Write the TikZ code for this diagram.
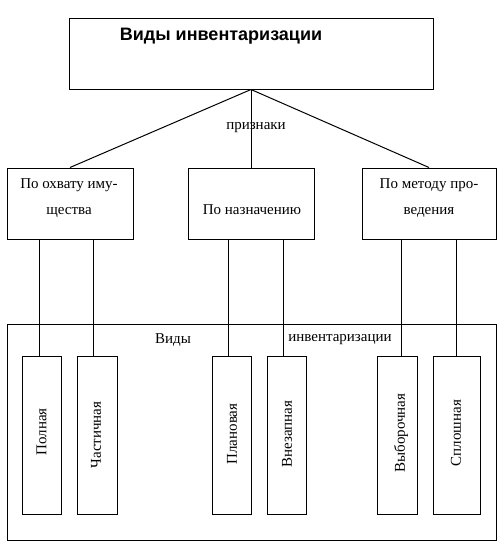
\documentclass[tikz,border=0pt]{standalone}
\usepackage{fontspec}
\setmainfont{Liberation Serif}
\newfontfamily\titlefont{Liberation Sans}
\usetikzlibrary{calc}
\begin{document}
\begin{tikzpicture}[x=1pt,y=-1pt,
  line width=1pt,
  box/.style={draw, rectangle, inner sep=0pt},
  txt/.style={font=\fontsize{15}{26}\selectfont, inner sep=0pt, align=center},
  vtxt/.style={font=\fontsize{15}{18}\selectfont, inner sep=0pt, rotate=90},
  link/.style={draw, line width=1pt}]
\useasboundingbox (0,0) rectangle (500,547);
% top box
\node[box, minimum width=364pt, minimum height=71pt] (top) at (251,53.5) {};
\node[inner sep=0pt, font=\titlefont\fontsize{18}{20}\selectfont\bfseries] (title) at (221,36) {Виды инвентаризации};
% second row
\node[box, minimum width=126pt, minimum height=71pt] (b1) at (70,203.5) {};
\node[box, minimum width=126pt, minimum height=71pt] (b2) at (251,203.5) {};
\node[box, minimum width=134pt, minimum height=71pt] (b3) at (429,203.5) {};
\node[txt, anchor=base] (t1) at (69,214) {По охвату иму-\\щества};
\node[txt, anchor=base] (t2) at (252,214) {По назначению};
\node[txt, anchor=base] (t3) at (429,214) {По методу про-\\ведения};
\node[txt] (pr) at (256,128) {признаки};
\draw (top.south) -- (b1.north);
\draw (top.south) -- (b2.north);
\draw (top.south) -- (b3.north);
% big box
\node[box, minimum width=489pt, minimum height=216pt] (big) at (251.5,432) {};
\node[txt] (v1) at (173,340) {Виды};
\node[txt] (v2) at (340,340) {инвентаризации};
% small boxes
\node[box, minimum width=39pt, minimum height=158pt] (s1) at (41.5,435) {};
\node[box, minimum width=40pt, minimum height=158pt] (s2) at (97,435) {};
\node[box, minimum width=39pt, minimum height=158pt] (s3) at (231.5,435) {};
\node[box, minimum width=39pt, minimum height=158pt] (s4) at (286.5,435) {};
\node[box, minimum width=40pt, minimum height=158pt] (s5) at (397,435) {};
\node[box, minimum width=47pt, minimum height=158pt] (s6) at (456.5,435) {};
\node[vtxt] (l1) at (41.5,432) {Полная};
\node[vtxt] (l2) at (96,435) {Частичная};
\node[vtxt] (l3) at (232,434) {Плановая};
\node[vtxt] (l4) at (287,434) {Внезапная};
\node[vtxt] (l5) at (401,433) {Выборочная};
\node[vtxt] (l6) at (456,433) {Сплошная};
% connectors
\draw ($(s1.north)+(-2.5,0)$) -- ($(s1.north |- b1.south)+(-2.5,0)$);
\draw ($(s2.north)+(-4,0)$) -- ($(s2.north |- b1.south)+(-4,0)$);
\draw ($(s3.north)+(-3.5,0)$) -- ($(s3.north |- b2.south)+(-3.5,0)$);
\draw ($(s4.north)+(-3.5,0)$) -- ($(s4.north |- b2.south)+(-3.5,0)$);
\draw ($(s5.north)+(4.5,0)$) -- ($(s5.north |- b3.south)+(4.5,0)$);
\draw (s6.north) -- (s6.north |- b3.south);
\end{tikzpicture}
\end{document}
